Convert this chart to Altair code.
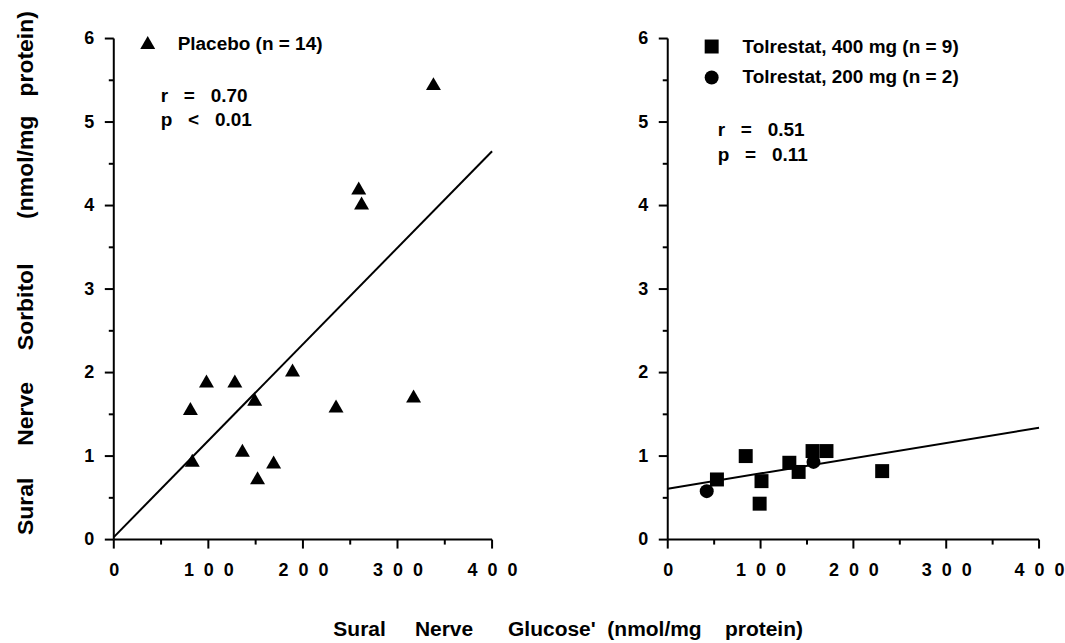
import altair as alt
import pandas as pd

# ---------------- data ----------------
placebo_x = [81, 83, 98, 128, 136, 149, 152, 169, 189, 235, 259, 262, 317, 338]
placebo_y = [1.57, 0.95, 1.90, 1.90, 1.07, 1.68, 0.74, 0.93, 2.03, 1.60, 4.21, 4.03, 1.72, 5.46]

tol400_x = [53, 84, 99, 101, 131, 141, 156, 171, 231]
tol400_y = [0.72, 1.00, 0.43, 0.70, 0.92, 0.81, 1.06, 1.06, 0.82]

tol200_x = [42, 157]
tol200_y = [0.58, 0.93]

line_x = [0, 400]
placebo_line_y = [0.03, 4.65]
tol_line_y = [0.61, 1.34]

x_ticks = [0, 100, 200, 300, 400]
x_minor = [50, 150, 250, 350]
y_ticks = [0, 1, 2, 3, 4, 5, 6]
y_minor = [0.5, 1.5, 2.5, 3.5, 4.5, 5.5]

NB = "\u00a0"
FONT = "Liberation Sans"
H = 502

xs = alt.Scale(domain=[0, 400], nice=False, zero=True)
ys = alt.Scale(domain=[0, 6], nice=False, zero=True)

x_axis = alt.Axis(values=x_ticks, title=None, grid=False, domain=False, ticks=False,
                  tickSize=0, labelFont=FONT, labelFontWeight="bold", labelFontSize=18,
                  labelColor="black", labelPadding=22, labelFlush=False,
                  labelExpr="join(split(datum.label, ''), '" + NB + NB + "')")
y_axis = alt.Axis(values=y_ticks, title=None, grid=False, domain=False, ticks=False,
                  tickSize=0, labelFont=FONT, labelFontWeight="bold", labelFontSize=18,
                  labelColor="black", labelPadding=20, labelFlush=False)


def X(field="x"):
    return alt.X(f"{field}:Q", scale=xs, axis=x_axis)


def Y(field="y"):
    return alt.Y(f"{field}:Q", scale=ys, axis=y_axis)


def axes_lines():
    # axis lines and tick marks drawn as filled rectangles
    y_dom = alt.Chart(pd.DataFrame({"y": [0], "y2": [6]})).mark_rect(color="black").encode(
        x=alt.value(-1), x2=alt.value(1), y=Y("y"), y2="y2:Q")
    x_dom = alt.Chart(pd.DataFrame({"x": [0], "x2": [400]})).mark_rect(color="black").encode(
        x=X("x"), x2="x2:Q", y=alt.value(H - 1), y2=alt.value(H + 1))
    y_maj = alt.Chart(pd.DataFrame({"y": y_ticks})).mark_tick(
        color="black", orient="horizontal", size=9, thickness=2, opacity=1).encode(
        x=alt.value(-4.5), y=Y())
    y_min = alt.Chart(pd.DataFrame({"y": y_minor})).mark_tick(
        color="black", orient="horizontal", size=5, thickness=2, opacity=1).encode(
        x=alt.value(-2.5), y=Y())
    x_maj = alt.Chart(pd.DataFrame({"x": x_ticks})).mark_tick(
        color="black", orient="vertical", size=9, thickness=2, opacity=1).encode(
        x=X(), y=alt.value(H + 4.5))
    x_min = alt.Chart(pd.DataFrame({"x": x_minor})).mark_tick(
        color="black", orient="vertical", size=5, thickness=2, opacity=1).encode(
        x=X(), y=alt.value(H + 2.5))
    return [y_dom, x_dom, y_maj, y_min, x_maj, x_min]


def label(text, px, py, size=19, angle=0, align="left", baseline="middle"):
    return alt.Chart(pd.DataFrame({"t": [text]})).mark_text(
        font=FONT, fontWeight="bold", fontSize=size, color="black",
        align=align, baseline=baseline, angle=angle).encode(
        x=alt.value(px), y=alt.value(py), text="t:N")


def symbol(shape, px, py, size):
    return alt.Chart(pd.DataFrame({"t": [shape]})).mark_point(
        shape=shape, filled=True, color="black", opacity=1, size=size).encode(
        x=alt.value(px), y=alt.value(py))


# ---------------- left panel: placebo ----------------
left_pts = alt.Chart(pd.DataFrame({"x": placebo_x, "y": placebo_y})).mark_point(
    shape="triangle-up", filled=True, color="black", opacity=1, size=225).encode(x=X(), y=Y())
left_line = alt.Chart(pd.DataFrame({"x": line_x, "y": placebo_line_y})).mark_line(
    color="black", strokeWidth=2).encode(x=X(), y=Y())

y_title = ("Sural" + NB * 5 + "Nerve" + NB * 5 + "Sorbitol" + NB * 7 +
           "(nmol/mg" + NB * 3 + "protein)")
x_title = ("Sural" + NB * 5 + "Nerve" + NB * 6 + "Glucose'" + NB * 2 +
           "(nmol/mg" + NB * 4 + "protein)")

left = alt.layer(
    left_line, left_pts, *axes_lines(),
    symbol("triangle-up", 34, 4, 225),
    label("Placebo (n = 14)", 64, 5),
    label("r" + NB * 3 + "=" + NB * 3 + "0.70", 47, 58),
    label("p" + NB * 3 + "<" + NB * 3 + "0.01", 47, 82),
    label(y_title, -88, 235, size=23, angle=270, align="center"),
    label(x_title, 220, 599, size=21, baseline="alphabetic"),
).properties(width=379, height=H)

# ---------------- right panel: tolrestat ----------------
r400 = alt.Chart(pd.DataFrame({"x": tol400_x, "y": tol400_y})).mark_point(
    shape="square", filled=True, color="black", opacity=1, size=196).encode(x=X(), y=Y())
r200 = alt.Chart(pd.DataFrame({"x": tol200_x, "y": tol200_y})).mark_point(
    shape="circle", filled=True, color="black", opacity=1, size=196).encode(x=X(), y=Y())
right_line = alt.Chart(pd.DataFrame({"x": line_x, "y": tol_line_y})).mark_line(
    color="black", strokeWidth=2).encode(x=X(), y=Y())

right = alt.layer(
    right_line, r400, r200, *axes_lines(),
    symbol("square", 44, 8, 196),
    label("Tolrestat, 400 mg (n = 9)", 75, 8),
    symbol("circle", 44, 39, 196),
    label("Tolrestat, 200 mg (n = 2)", 75, 39),
    label("r" + NB * 3 + "=" + NB * 3 + "0.51", 50, 92),
    label("p" + NB * 3 + "=" + NB * 3 + "0.11", 50, 117),
).properties(width=372, height=H)

chart = alt.hconcat(left, right, spacing=176, bounds="flush").properties(
    padding={"left": 14, "top": 10, "right": 0, "bottom": 0},
    background="white",
).configure_view(stroke=None)

chart.save("out.html", embed_options={"renderer": "svg", "actions": False})
